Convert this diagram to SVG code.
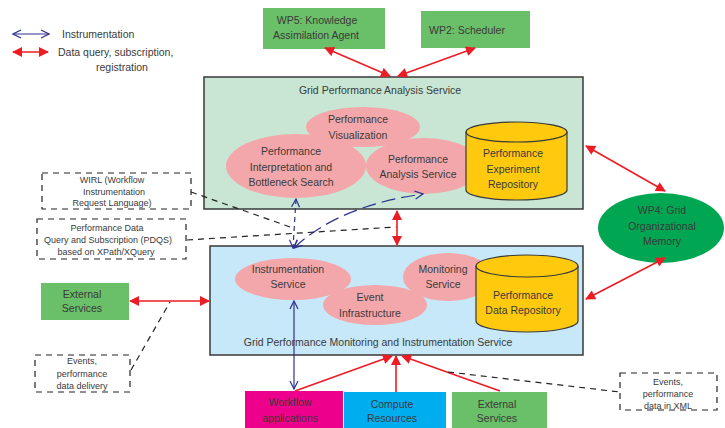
<svg xmlns="http://www.w3.org/2000/svg" width="725" height="428" viewBox="0 0 725 428">
<style>
text{font-family:"Liberation Sans",Arial,sans-serif;fill:#3a3a3a;text-anchor:middle}
.t{font-size:10.5px}
.s{font-size:9px}
.box{stroke:#3a3a3a;stroke-width:1.5}
.dash{fill:none;stroke:#222;stroke-width:1.2;stroke-dasharray:6,5}
.red{stroke:#ed1c24;stroke-width:1.6;fill:none}
.blue{stroke:#2e3192;stroke-width:1.2;fill:none}
.ell{fill:#f4a7aa}
.cyl{fill:#ffc90e;stroke:#3a3a3a;stroke-width:1.2}
</style>
<defs>
<marker id="ra" viewBox="0 0 10 10" refX="9" refY="5" markerWidth="12" markerHeight="10" markerUnits="userSpaceOnUse" orient="auto-start-reverse">
<path d="M0,0 L10,5 L0,10 z" fill="#ed1c24"/>
</marker>
<marker id="ba" viewBox="0 0 10 10" refX="9" refY="5" markerWidth="10" markerHeight="10" markerUnits="userSpaceOnUse" orient="auto-start-reverse">
<path d="M1,1 L9,5 L1,9" fill="none" stroke="#2e3192" stroke-width="1.2"/>
</marker>
</defs>
<rect width="725" height="428" fill="#fff"/>

<g id="legend">
<line class="blue" x1="13" y1="34" x2="49" y2="34" marker-start="url(#ba)" marker-end="url(#ba)"/>
<text class="t" x="62" y="38" style="text-anchor:start">Instrumentation</text>
<line class="red" x1="13" y1="52" x2="48" y2="52" marker-start="url(#ra)" marker-end="url(#ra)"/>
<text class="t" x="58" y="56" style="text-anchor:start">Data query, subscription,</text>
<text class="t" x="122" y="71">registration</text>
</g>

<g id="analysis">
<rect class="box" x="204" y="77" width="379" height="132" fill="#c8e6d3"/>
<text class="t" x="380" y="94">Grid Performance Analysis Service</text>
</g>
<g id="monitoring">
<rect class="box" x="210" y="246" width="373" height="109" fill="#c6e8f8"/>
<text class="t" x="378" y="346">Grid Performance Monitoring and Instrumentation Service</text>
</g>

<g id="viz">
<ellipse class="ell" cx="363" cy="127" rx="57" ry="20"/>
<text class="t" x="358" y="123">Performance</text>
<text class="t" x="358" y="139">Visualization</text>
</g>
<g id="interp">
<ellipse class="ell" cx="296" cy="166" rx="70" ry="32"/>
<text class="t" x="291" y="155">Performance</text>
<text class="t" x="291" y="171">Interpretation and</text>
<text class="t" x="291" y="186">Bottleneck Search</text>
</g>
<g id="anasvc">
<ellipse class="ell" cx="424" cy="166" rx="58" ry="28"/>
<text class="t" x="418" y="163">Performance</text>
<text class="t" x="418" y="178">Analysis Service</text>
</g>
<g id="exprepo">
<path class="cyl" d="M466,132 L466,190 A50.5,10 0 0 0 567,190 L567,132 A50.5,10 0 0 0 466,132 z"/>
<path d="M466,132 A50.5,10 0 0 0 567,132" fill="none" stroke="#3a3a3a" stroke-width="1.2"/>
<text class="t" x="513" y="157">Performance</text>
<text class="t" x="513" y="173">Experiment</text>
<text class="t" x="513" y="188">Repository</text>
</g>

<g id="instsvc">
<ellipse class="ell" cx="293" cy="279" rx="58" ry="21"/>
<text class="t" x="288" y="273">Instrumentation</text>
<text class="t" x="288" y="288">Service</text>
</g>
<g id="event">
<ellipse class="ell" cx="375" cy="305" rx="52" ry="20"/>
<text class="t" x="370" y="301">Event</text>
<text class="t" x="370" y="317">Infrastructure</text>
</g>
<g id="monsvc">
<ellipse class="ell" cx="448" cy="277" rx="45" ry="24"/>
<text class="t" x="443" y="273">Monitoring</text>
<text class="t" x="443" y="288">Service</text>
</g>
<g id="datarepo">
<path class="cyl" d="M476,266 L476,321 A51,11 0 0 0 578,321 L578,266 A51,11 0 0 0 476,266 z"/>
<path d="M476,266 A51,11 0 0 0 578,266" fill="none" stroke="#3a3a3a" stroke-width="1.2"/>
<text class="t" x="523" y="299">Performance</text>
<text class="t" x="523" y="314">Data Repository</text>
</g>

<g id="wp5">
<rect x="263" y="8" width="122" height="41" fill="#6abf69"/>
<text class="t" x="317" y="24">WP5: Knowledge</text>
<text class="t" x="316" y="39">Assimilation Agent</text>
</g>
<g id="wp2">
<rect x="421" y="11" width="109" height="37" fill="#6abf69"/>
<text class="t" x="467" y="34">WP2: Scheduler</text>
</g>
<g id="wp4">
<ellipse cx="661" cy="228" rx="63" ry="35" fill="#00a651"/>
<text class="t" x="662" y="214">WP4: Grid</text>
<text class="t" x="662" y="230">Organizational</text>
<text class="t" x="662" y="245">Memory</text>
</g>
<g id="extleft">
<rect x="41" y="283" width="88" height="37" fill="#6abf69"/>
<text class="t" x="82" y="298">External</text>
<text class="t" x="82" y="312">Services</text>
</g>
<g id="workflow">
<rect x="245" y="391" width="98" height="37" fill="#ec008c"/>
<text class="t" x="290" y="406">Workflow</text>
<text class="t" x="290" y="422">applications</text>
</g>
<g id="compute">
<rect x="344" y="392" width="102" height="36" fill="#00aeef"/>
<text class="t" x="392" y="408">Compute</text>
<text class="t" x="392" y="422">Resources</text>
</g>
<g id="extbottom">
<rect x="452" y="392" width="95" height="36" fill="#6abf69"/>
<text class="t" x="497" y="408">External</text>
<text class="t" x="497" y="422">Services</text>
</g>

<g id="wirl">
<rect class="dash" x="42" y="173" width="149" height="36"/>
<text class="s" x="112" y="183">WIRL (Workflow</text>
<text class="s" x="114" y="195">Instrumentation</text>
<text class="s" x="112" y="206">Request Language)</text>
</g>
<g id="pdqs">
<rect class="dash" x="37" y="219" width="149" height="40"/>
<text class="s" x="107" y="231">Performance Data</text>
<text class="s" x="108" y="243">Query and Subscription (PDQS)</text>
<text class="s" x="106" y="255">based on XPath/XQuery</text>
</g>
<g id="events1">
<rect class="dash" x="35" y="355" width="95" height="37"/>
<text class="s" x="82" y="364">Events,</text>
<text class="s" x="82" y="377">performance</text>
<text class="s" x="82" y="389">data delivery</text>
</g>
<g id="events2">
<rect class="dash" x="620" y="373" width="97" height="37"/>
<text class="s" x="668" y="385">Events,</text>
<text class="s" x="668" y="397">performance</text>
<text class="s" x="668" y="409">data in XML</text>
</g>

<g id="connectors">
<line class="red" x1="325" y1="48" x2="390" y2="76" marker-start="url(#ra)" marker-end="url(#ra)"/>
<line class="red" x1="475" y1="48" x2="398" y2="76" marker-start="url(#ra)" marker-end="url(#ra)"/>
<line class="red" x1="586" y1="146" x2="665" y2="191" marker-start="url(#ra)" marker-end="url(#ra)"/>
<line class="red" x1="586" y1="299" x2="665" y2="258" marker-start="url(#ra)" marker-end="url(#ra)"/>
<line class="red" x1="397" y1="211" x2="397" y2="245" marker-start="url(#ra)" marker-end="url(#ra)"/>
<line class="red" x1="130" y1="301" x2="209" y2="301" marker-start="url(#ra)" marker-end="url(#ra)"/>
<line class="red" x1="295" y1="391" x2="392" y2="356" marker-end="url(#ra)"/>
<line class="red" x1="396" y1="392" x2="396" y2="356" marker-end="url(#ra)"/>
<line class="red" x1="500" y1="391" x2="402" y2="356" marker-end="url(#ra)"/>

<line class="blue" x1="296" y1="199" x2="293" y2="248" stroke-dasharray="5,4" marker-start="url(#ba)" marker-end="url(#ba)"/>
<path class="blue" d="M294,248 Q338,206 423,194" stroke-dasharray="14,6" marker-start="url(#ba)" marker-end="url(#ba)"/>
<line class="blue" x1="294" y1="301" x2="294" y2="389" marker-start="url(#ba)" marker-end="url(#ba)"/>

<path class="dash" d="M191,192 L293,228"/>
<path class="dash" d="M187,240 L396,227"/>
<path class="dash" d="M131,370 L170,302"/>
<path class="dash" d="M448,372 L620,392"/>
</g>
</svg>
